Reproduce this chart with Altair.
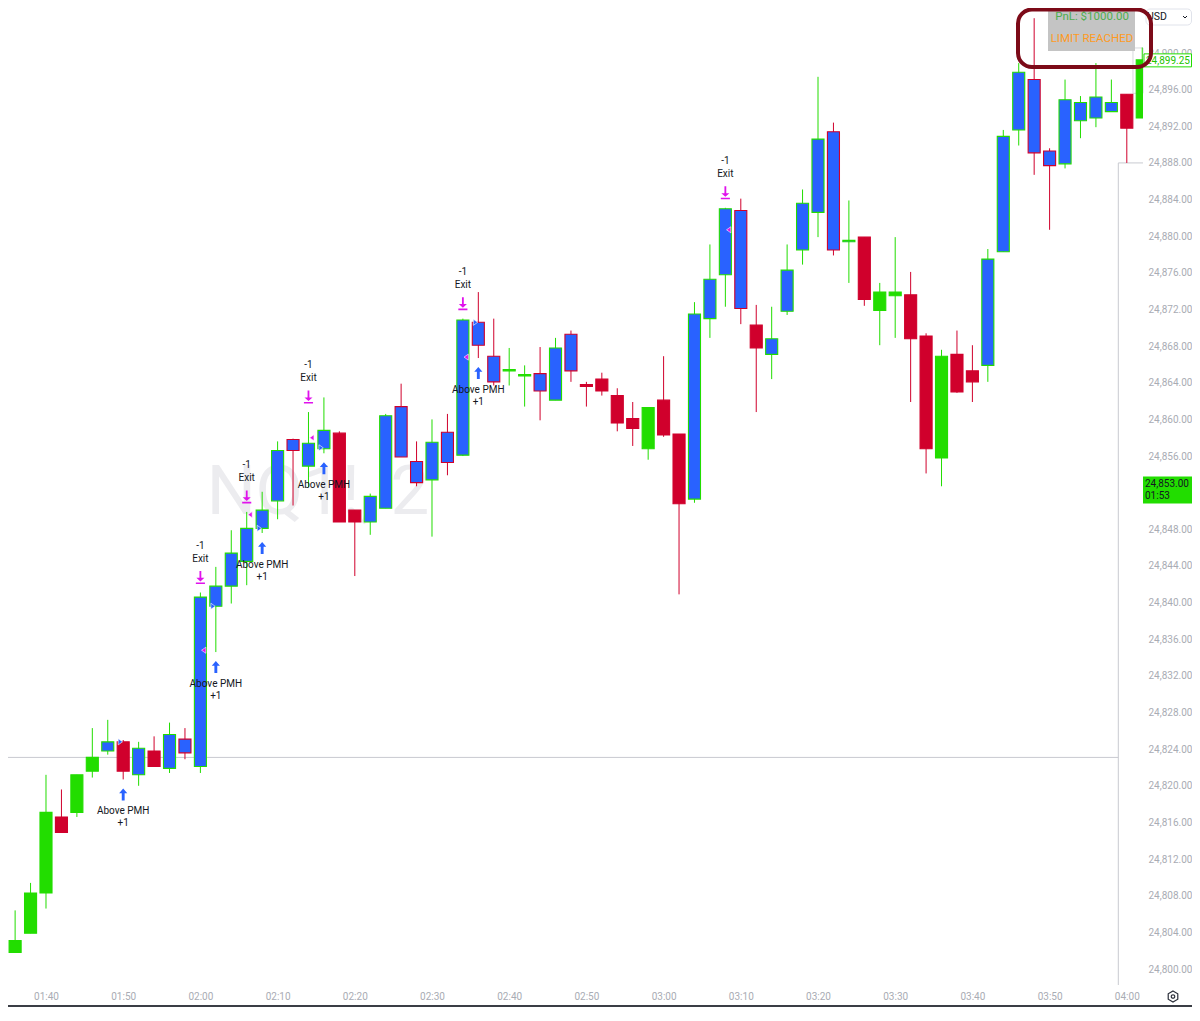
import altair as alt
import pandas as pd

# ---------------- data ----------------
times = ["01:34", "01:36", "01:38", "01:40", "01:42", "01:44", "01:46", "01:48", "01:50", "01:52",
         "01:54", "01:56", "01:58", "02:00", "02:02", "02:04", "02:06", "02:08", "02:10", "02:12",
         "02:14", "02:16", "02:18", "02:20", "02:22", "02:24", "02:26", "02:28", "02:30", "02:32",
         "02:34", "02:36", "02:38", "02:40", "02:42", "02:44", "02:46", "02:48", "02:50", "02:52",
         "02:54", "02:56", "02:58", "03:00", "03:02", "03:04", "03:06", "03:08", "03:10", "03:12",
         "03:14", "03:16", "03:18", "03:20", "03:22", "03:24", "03:26", "03:28", "03:30", "03:32",
         "03:34", "03:36", "03:38", "03:40", "03:42", "03:44", "03:46", "03:48", "03:50", "03:52",
         "03:54", "03:56", "03:58", "04:00", "04:02"]
styles = ["r", "g", "g", "g", "r", "g", "g", "b", "r", "b",
          "r", "b", "b", "b", "b", "b", "b", "b", "b", "b",
          "b", "b", "r", "r", "b", "b", "b", "b", "b", "b",
          "b", "b", "b", "g", "g", "b", "b", "b", "r", "r",
          "r", "r", "g", "r", "r", "b", "b", "b", "b", "r",
          "b", "b", "b", "b", "b", "b", "r", "g", "g", "r",
          "r", "g", "r", "r", "b", "b", "b", "b", "b", "b",
          "b", "b", "b", "r", "g"]
opens = [24805.7, 24801.8, 24803.9, 24808.3, 24816.6, 24817.1, 24821.6, 24823.8, 24824.8, 24821.2,
         24823.8, 24821.9, 24825.1, 24822.1, 24839.6, 24841.8, 24844.5, 24848.1, 24851.1, 24857.8,
         24854.9, 24856.8, 24858.5, 24850.1, 24848.8, 24850.3, 24861.4, 24855.4, 24853.4, 24858.6,
         24856.1, 24870.6, 24866.9, 24865.3, 24864.75, 24865.0, 24862.1, 24869.3, 24863.8, 24864.4,
         24862.6, 24860.1, 24856.8, 24862.1, 24858.4, 24851.3, 24871.0, 24875.8, 24882.8, 24870.3,
         24867.1, 24871.8, 24878.5, 24882.6, 24891.4, 24879.4, 24879.9, 24871.9, 24873.5, 24873.6,
         24869.1, 24855.8, 24867.1, 24865.3, 24865.9, 24878.3, 24891.6, 24897.1, 24889.3, 24887.9,
         24892.6, 24892.9, 24893.6, 24895.5, 24892.9]
highs = [24806.2, 24806.4, 24809.4, 24821.2, 24819.6, 24821.2, 24826.3, 24827.2, 24825.0, 24824.8,
         24825.4, 24826.9, 24826.3, 24841.1, 24843.9, 24847.9, 24849.9, 24852.1, 24857.6, 24857.9,
         24860.8, 24862.4, 24858.7, 24850.1, 24851.9, 24860.6, 24863.9, 24857.6, 24860.0, 24860.6,
         24871.0, 24873.9, 24871.0, 24867.8, 24865.9, 24867.9, 24868.9, 24869.7, 24864.1, 24865.1,
         24863.4, 24861.9, 24861.3, 24866.9, 24858.4, 24872.8, 24879.1, 24883.1, 24884.1, 24872.5,
         24872.3, 24879.1, 24885.1, 24897.4, 24892.4, 24883.9, 24879.9, 24874.9, 24879.9, 24876.1,
         24869.4, 24867.6, 24869.7, 24868.1, 24878.6, 24891.6, 24898.9, 24903.8, 24889.6, 24897.1,
         24895.3, 24898.9, 24897.1, 24895.5, 24900.6]
lows = [24799.3, 24801.8, 24803.9, 24806.6, 24814.9, 24816.6, 24820.9, 24823.4, 24820.7, 24820.0,
        24822.1, 24821.4, 24822.9, 24821.4, 24834.6, 24839.9, 24841.9, 24847.6, 24849.1, 24850.6,
        24852.6, 24856.3, 24848.8, 24842.9, 24847.4, 24850.3, 24855.9, 24852.7, 24847.2, 24853.9,
        24856.0, 24866.7, 24863.7, 24863.7, 24861.4, 24859.9, 24862.1, 24864.1, 24861.4, 24862.6,
        24858.7, 24857.1, 24855.6, 24858.1, 24840.9, 24850.9, 24868.9, 24872.3, 24870.4, 24860.8,
        24864.4, 24871.4, 24876.9, 24879.9, 24877.9, 24874.9, 24872.4, 24868.1, 24868.9, 24861.9,
        24854.1, 24852.7, 24862.9, 24861.9, 24864.1, 24878.3, 24889.9, 24886.7, 24880.7, 24887.4,
        24890.7, 24891.9, 24893.6, 24888.0, 24892.9]
closes = [24801.2, 24803.1, 24808.3, 24817.1, 24814.9, 24821.2, 24823.1, 24824.8, 24821.6, 24824.1,
          24822.1, 24825.6, 24823.6, 24840.6, 24841.8, 24845.4, 24848.1, 24850.1, 24856.6, 24856.6,
          24857.4, 24858.8, 24848.8, 24848.8, 24851.6, 24860.4, 24855.9, 24853.1, 24857.5, 24855.3,
          24870.85, 24868.1, 24864.1, 24865.45, 24864.9, 24863.1, 24867.8, 24865.3, 24863.6, 24863.1,
          24859.6, 24859.0, 24861.3, 24858.3, 24850.8, 24871.5, 24875.3, 24883.0, 24872.1, 24867.8,
          24868.8, 24876.3, 24883.6, 24890.6, 24878.5, 24879.55, 24873.1, 24873.9, 24873.9, 24868.8,
          24856.8, 24866.9, 24863.0, 24864.1, 24877.5, 24890.9, 24897.9, 24889.1, 24887.7, 24894.9,
          24894.6, 24895.2, 24894.6, 24891.8, 24899.25]

entry_times = ["01:50", "02:02", "02:08", "02:16", "02:36"]
entry_prices = [24824.8, 24839.6, 24848.1, 24856.9, 24870.6]
exit_times = ["02:00", "02:06", "02:14", "02:34", "03:08"]
exit_prices = [24834.8, 24849.6, 24858.0, 24866.8, 24880.7]

crosshair_price = 24823.1
marker_time = "03:58.9"
marker_price = 24888.0
box_times = ["04:00.8", "04:02.1"]
box_prices = [24900.55, 24895.6]
side_tag_price = 24853.00
side_tag_time = "01:53"

y_ticks = list(range(24800, 24901, 4))
x_ticks = list(range(0, 141, 10))   # minutes after 01:40

# ---------------- styling ----------------
GREEN = "#22dd00"
RED = "#d0002c"
BLUE = "#2962ff"
MAGENTA = "#e012ec"
TXT = "#131722"
AXC = "#a9acb4"
FONT = "Roboto"


def to_min(s):
    h, m = s.split(":")
    return int(h) * 60 + float(m) - 100.0


XMIN, XMAX = -4.922, 142.098
YMIN, YMAX = 24798.254, 24904.913

xs = alt.Scale(domain=[XMIN, XMAX], nice=False, zero=False)
ys = alt.Scale(domain=[YMIN, YMAX], nice=False, zero=False)
xax = alt.Axis(values=x_ticks, title=None, domain=False, ticks=False, grid=False,
               labelExpr="timeFormat(datetime(2024, 0, 1, 1, 40 + datum.value), '%H:%M')",
               labelColor=AXC, labelFont=FONT, labelFontSize=10, labelPadding=6,
               labelFlush=False, labelOverlap=False)
yax = alt.Axis(orient="right", values=y_ticks, format=",.2f", title=None, domain=False,
               ticks=False, grid=False, labelColor=AXC, labelFont=FONT, labelFontSize=10,
               labelPadding=5, labelFlush=False, labelOverlap=False)


def X(f):
    return alt.X(f, type="quantitative", scale=xs, axis=xax)


def Y(f):
    return alt.Y(f, type="quantitative", scale=ys, axis=yax)


df = pd.DataFrame({"time": times, "style": styles, "o": opens, "h": highs, "l": lows, "c": closes})
df["t"] = df["time"].map(to_min)
df["x0"] = df["t"] - 0.78
df["x1"] = df["t"] + 0.78
df["top"] = df[["o", "c"]].max(axis=1)
df["bot"] = df[["o", "c"]].min(axis=1)
df["edge"] = [GREEN if c >= o else RED for o, c in zip(df["o"], df["c"])]
df["fill"] = [BLUE if s == "b" else (GREEN if s == "g" else RED) for s in df["style"]]

lookup = df.set_index("time")
ent = pd.DataFrame({"time": entry_times, "p": entry_prices})
ent["t"] = ent["time"].map(to_min)
ent["low"] = [lookup.loc[tm, "l"] for tm in entry_times]
ext = pd.DataFrame({"time": exit_times, "p": exit_prices})
ext["t"] = ext["time"].map(to_min)
ext["high"] = [lookup.loc[tm, "h"] for tm in exit_times]

ARROW_UP = "M0,-1 L0.68,-0.2 L0.24,-0.2 L0.24,1 L-0.24,1 L-0.24,-0.2 L-0.68,-0.2 Z"
EXIT_ARROW = ("M-0.14,-1 L0.14,-1 L0.14,0.05 L0.62,0.05 L0,0.62 L-0.62,0.05 L-0.14,0.05 Z "
              "M-0.7,0.76 L0.7,0.76 L0.7,1 L-0.7,1 Z")
TRI_R = "M-0.55,-0.85 L0.65,0 L-0.55,0.85 Z"
TRI_L = "M0.55,-0.85 L-0.65,0 L0.55,0.85 Z"
HEX = "M0,-1 L0.87,-0.5 L0.87,0.5 L0,1 L-0.87,0.5 L-0.87,-0.5 Z"
CHEV = "M-1,-0.5 L0,0.5 L1,-0.5"

one = pd.DataFrame({"k": [0]})

watermark = alt.Chart(one).mark_text(text="NQ1!, 2", font=FONT, fontSize=69, color="#ececef",
                                     align="center", baseline="alphabetic").encode(
    x=alt.value(310), y=alt.value(506))

lines_df = pd.DataFrame({"x0": [XMIN, to_min(marker_time)], "x1": [to_min(marker_time), XMAX],
                         "p": [crosshair_price, marker_price]})
hlines = alt.Chart(lines_df).mark_rule(color="#c8cad0", strokeWidth=1).encode(
    x=X("x0"), x2="x1", y=Y("p"))
vline_df = pd.DataFrame({"t": [to_min(marker_time)], "p0": [marker_price], "p1": [YMIN]})
vline = alt.Chart(vline_df).mark_rule(color="#c8cad0", strokeWidth=1).encode(
    x=X("t"), y=Y("p0"), y2="p1")
box_df = pd.DataFrame({"x0": [to_min(box_times[0])], "x1": [to_min(box_times[1])],
                       "p0": [box_prices[0]], "p1": [box_prices[1]]})
lightbox = alt.Chart(box_df).mark_rect(fillOpacity=0, stroke="#d6d8dd", strokeWidth=1).encode(
    x=X("x0"), x2="x1", y=Y("p0"), y2="p1")

wicks = alt.Chart(df).mark_rule(strokeWidth=1, clip=True).encode(
    x=X("t"), y=Y("l"), y2="h", color=alt.Color("edge:N", scale=None))
bodies = alt.Chart(df).mark_rect(strokeWidth=1.1, clip=True).encode(
    x=X("x0"), x2="x1", y=Y("top"), y2="bot",
    fill=alt.Fill("fill:N", scale=None), stroke=alt.Stroke("edge:N", scale=None))

ent_arrow = alt.Chart(ent).mark_point(shape=ARROW_UP, size=144, filled=True, color=BLUE,
                                      strokeWidth=0, opacity=1, yOffset=15).encode(x=X("t"), y=Y("low"))
ent_txt1 = alt.Chart(ent).mark_text(text="Above PMH", font=FONT, fontSize=10, color=TXT,
                                    yOffset=32).encode(x=X("t"), y=Y("low"))
ent_txt2 = alt.Chart(ent).mark_text(text="+1", font=FONT, fontSize=10, color=TXT,
                                    yOffset=44).encode(x=X("t"), y=Y("low"))
ent_tri = alt.Chart(ent).mark_point(shape=TRI_R, size=52, filled=True, color=BLUE, opacity=1,
                                    stroke="white", strokeWidth=0.6, xOffset=-3).encode(x=X("t"), y=Y("p"))

ext_arrow = alt.Chart(ext).mark_point(shape=EXIT_ARROW, size=169, filled=True, color=MAGENTA,
                                      strokeWidth=0, opacity=1, yOffset=-15).encode(x=X("t"), y=Y("high"))
ext_txt1 = alt.Chart(ext).mark_text(text="Exit", font=FONT, fontSize=10, color=TXT,
                                    yOffset=-34).encode(x=X("t"), y=Y("high"))
ext_txt2 = alt.Chart(ext).mark_text(text="-1", font=FONT, fontSize=10, color=TXT,
                                    yOffset=-47).encode(x=X("t"), y=Y("high"))
ext_tri = alt.Chart(ext).mark_point(shape=TRI_L, size=52, filled=True, color=MAGENTA, opacity=1,
                                    stroke="white", strokeWidth=0.6, xOffset=3.5).encode(x=X("t"), y=Y("p"))

# price tags on the scale
last_df = pd.DataFrame({"p": [closes[-1]], "label": [f"{closes[-1]:,.2f}"]})
tag1_box = alt.Chart(last_df).mark_rect(fill="white", stroke=GREEN, strokeWidth=1,
                                        yOffset=-6, y2Offset=7).encode(
    x=alt.value(1136), x2=alt.value(1183.5), y=Y("p"), y2="p")
tag1_txt = alt.Chart(last_df).mark_text(align="left", font=FONT, fontSize=10, color="#22c400",
                                        yOffset=1).encode(x=alt.value(1138), y=Y("p"), text="label:N")
side_df = pd.DataFrame({"p": [side_tag_price], "l1": [f"{side_tag_price:,.2f}"], "l2": [side_tag_time]})
tag2_box = alt.Chart(side_df).mark_rect(fill=GREEN, yOffset=-7, y2Offset=20).encode(
    x=alt.value(1135), x2=alt.value(1184), y=Y("p"), y2="p")
tag2_t1 = alt.Chart(side_df).mark_text(align="left", font=FONT, fontSize=10, color=TXT,
                                       yOffset=0).encode(x=alt.value(1137), y=Y("p"), text="l1:N")
tag2_t2 = alt.Chart(side_df).mark_text(align="left", font=FONT, fontSize=10, color=TXT,
                                       yOffset=12).encode(x=alt.value(1137), y=Y("p"), text="l2:N")

# top-right widgets
usd_box = alt.Chart(one).mark_rect(fill="white", stroke="#e0e3eb", cornerRadius=4).encode(
    x=alt.value(1138), x2=alt.value(1183.5), y=alt.value(1), y2=alt.value(17))
usd_txt = alt.Chart(one).mark_text(text="USD", align="left", font=FONT, fontSize=10.5, color=TXT).encode(
    x=alt.value(1139), y=alt.value(9))
usd_chev = alt.Chart(one).mark_point(shape=CHEV, size=16, filled=False, color=TXT, strokeWidth=1,
                                     opacity=1).encode(x=alt.value(1177), y=alt.value(9))
pnl_box = alt.Chart(one).mark_rect(fill="#c4c4c4").encode(
    x=alt.value(1040), x2=alt.value(1127), y=alt.value(1), y2=alt.value(43))
pnl_txt = alt.Chart(one).mark_text(text="PnL: $1000.00", font=FONT, fontSize=11.5, color="#4fae4f").encode(
    x=alt.value(1084), y=alt.value(9))
lim_txt = alt.Chart(one).mark_text(text="LIMIT REACHED", font=FONT, fontSize=11.5, color="#ff9a1f").encode(
    x=alt.value(1084), y=alt.value(31))
red_frame = alt.Chart(one).mark_rect(fillOpacity=0, stroke="#7c0a18", strokeWidth=4, cornerRadius=14).encode(
    x=alt.value(1010), x2=alt.value(1143), y=alt.value(1.5), y2=alt.value(59))

gear_out = alt.Chart(one).mark_point(shape=HEX, size=121, filled=False, color="#2a2e39", strokeWidth=1.2,
                                     opacity=1).encode(x=alt.value(1165), y=alt.value(988.5))
gear_in = alt.Chart(one).mark_point(shape="circle", size=12, filled=False, color="#2a2e39", strokeWidth=1.2,
                                    opacity=1).encode(x=alt.value(1165), y=alt.value(988.5))
bottom_line = alt.Chart(one).mark_rule(color="#3a3d45", strokeWidth=2).encode(
    x=alt.value(0), x2=alt.value(1184), y=alt.value(998))

chart = alt.layer(
    watermark, hlines, vline, lightbox, wicks, bodies,
    ent_arrow, ent_txt1, ent_txt2, ent_tri, ext_arrow, ext_txt1, ext_txt2, ext_tri,
    tag1_box, tag1_txt, tag2_box, tag2_t1, tag2_t2,
    usd_box, usd_txt, usd_chev, pnl_box, pnl_txt, lim_txt, red_frame,
    gear_out, gear_in, bottom_line
).properties(
    width=1135, height=977,
    autosize=alt.AutoSizeParams(type="none"),
    padding={"left": 0, "top": 0, "right": 49, "bottom": 22},
    background="white"
).configure_view(stroke=None)

chart.save("out.html", embed_options={"renderer": "svg", "actions": False})
